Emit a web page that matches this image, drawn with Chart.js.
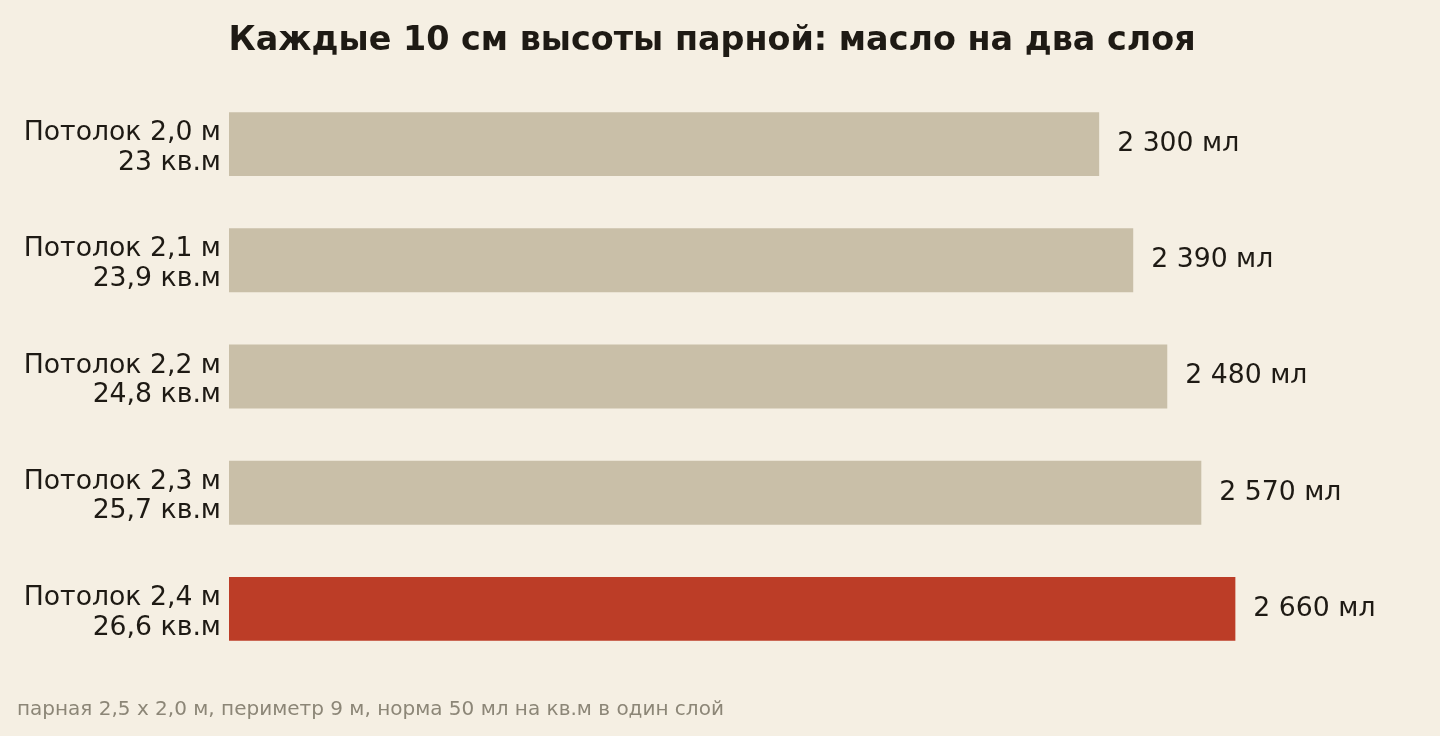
<!DOCTYPE html>
<html>
<head>
<meta charset="utf-8">
<script src="https://cdn.jsdelivr.net/npm/chart.js@4.4.1/dist/chart.umd.min.js"></script>
<style>
    html, body { margin: 0; padding: 0; background: #f5efe3; }
    #wrap { width: 1440px; height: 736px; position: relative; }
</style>
</head>
<body>
<div id="wrap"><canvas id="myGraph"></canvas></div>
<script>
"use strict";

// ceiling heights and the area that gets oiled
let heights = ["Потолок 2,0 м", "Потолок 2,1 м", "Потолок 2,2 м", "Потолок 2,3 м", "Потолок 2,4 м"];
let areas = ["23 кв.м", "23,9 кв.м", "24,8 кв.м", "25,7 кв.м", "26,6 кв.м"];
let oilMl = [2300, 2390, 2480, 2570, 2660];
let highlightIndex = 4;

let titleText = "Каждые 10 см высоты парной: масло на два слоя";
let noteText = "парная 2,5 x 2,0 м, периметр 9 м, норма 50 мл на кв.м в один слой";

const fontName = "'DejaVu Sans', sans-serif";
const textColor = "#1e1a14";

function formatMl(v) {
    let s = String(v);
    if (s.length > 3) {
        s = s.slice(0, s.length - 3) + " " + s.slice(s.length - 3);
    }
    return s + " мл";
}

let labelArray = [];
for (let i = 0; i < heights.length; i++) {
    labelArray.push([heights[i], areas[i]]);
}

let barColors = [];
for (let i = 0; i < oilMl.length; i++) {
    barColors.push(i === highlightIndex ? "#bc3d27" : "#c9bfa8");
}

// title, footnote and the numbers next to bars
const extraText = {
    id: "extraText",
    afterDatasetsDraw(chart) {
        const ctx = chart.ctx;
        ctx.save();
        ctx.fillStyle = textColor;
        ctx.font = "bold 33.4px " + fontName;
        ctx.textAlign = "center";
        ctx.textBaseline = "alphabetic";
        ctx.fillText(titleText, 712, 50);

        ctx.font = "26.7px " + fontName;
        ctx.textAlign = "left";
        ctx.textBaseline = "middle";
        const meta = chart.getDatasetMeta(0);
        meta.data.forEach(function (bar, i) {
            ctx.fillText(formatMl(oilMl[i]), bar.x + 18, bar.y);
        });

        ctx.fillStyle = "#8c8677";
        ctx.font = "20px " + fontName;
        ctx.textBaseline = "alphabetic";
        ctx.fillText(noteText, 17, 715);
        ctx.restore();
    },
};

const data = {
    labels: labelArray,
    datasets: [
        {
            label: "Масло",
            data: oilMl,
            backgroundColor: barColors,
            borderWidth: 0,
            barPercentage: 0.55,
            categoryPercentage: 1,
        },
    ],
};

const config = {
    type: "bar",
    data: data,
    options: {
        indexAxis: "y",
        responsive: true,
        maintainAspectRatio: false,
        animation: false,
        layout: {
            padding: { left: 0, right: 76, top: 86, bottom: 69 },
        },
        plugins: {
            legend: { display: false },
            tooltip: { enabled: false },
        },
        scales: {
            x: {
                display: false,
                min: 0,
                max: 3000,
            },
            y: {
                grid: { display: false, drawTicks: false },
                border: { display: false },
                ticks: {
                    color: textColor,
                    font: { family: fontName, size: 26.7, lineHeight: 1.11 },
                    padding: 8,
                    labelOffset: 4,
                },
                afterFit(scale) {
                    scale.width = 229;
                },
            },
        },
    },
    plugins: [extraText],
};

const canvasChart = document.getElementById("myGraph");
new Chart(canvasChart, config);
</script>
</body>
</html>
